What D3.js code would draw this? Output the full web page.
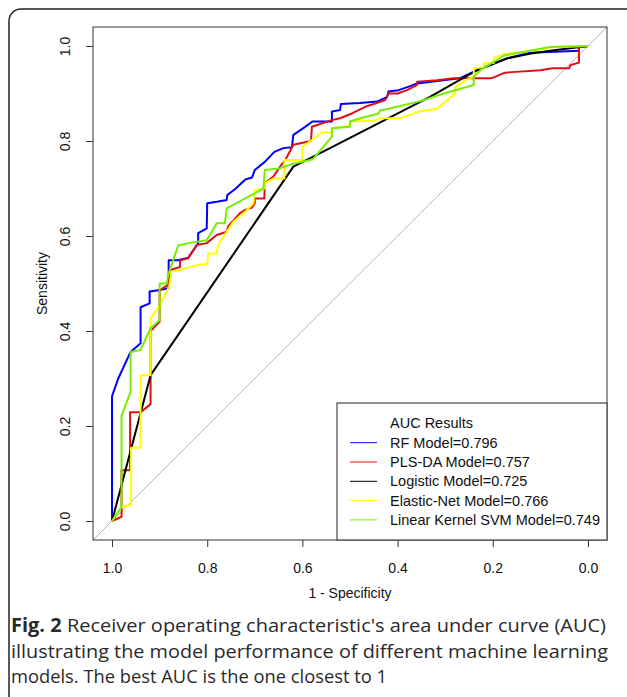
<!DOCTYPE html>
<html>
<head>
<meta charset="utf-8">
<script src="https://cdn.jsdelivr.net/npm/d3@7"></script>
<style>
  body { margin: 0; background: #fff; }
  svg { display: block; }
</style>
</head>
<body>
<script>
// ROC curves, points are [specificity, sensitivity]
var rfPoints = [[1,0],[1,0.263],[0.987,0.30],[0.961,0.356],[0.94,0.374],[0.94,0.45],[0.921,0.458],[0.921,0.483],
  [0.903,0.486],[0.881,0.49],[0.881,0.549],[0.862,0.549],[0.84,0.554],[0.819,0.585],[0.819,0.606],[0.801,0.616],
  [0.80,0.669],[0.78,0.672],[0.759,0.676],[0.758,0.686],[0.74,0.70],[0.72,0.719],[0.706,0.723],[0.70,0.739],
  [0.679,0.756],[0.659,0.777],[0.64,0.785],[0.622,0.787],[0.619,0.813],[0.598,0.827],[0.579,0.841],[0.538,0.841],
  [0.538,0.862],[0.521,0.865],[0.519,0.878],[0.479,0.88],[0.443,0.883],[0.422,0.893],[0.419,0.904],[0.398,0.907],
  [0.378,0.914],[0.359,0.921],[0.27,0.932],[0.233,0.949],[0.17,0.974],[0.121,0.986],[0.019,0.99],[0.019,0.998],[0,1]];
var plsdaPoints = [[1,0],[0.98,0.009],[0.98,0.107],[0.962,0.107],[0.962,0.229],[0.94,0.229],[0.919,0.246],[0.919,0.40],
  [0.90,0.42],[0.90,0.486],[0.882,0.497],[0.879,0.528],[0.857,0.535],[0.857,0.549],[0.84,0.553],[0.822,0.581],
  [0.801,0.585],[0.78,0.602],[0.759,0.609],[0.756,0.62],[0.731,0.648],[0.72,0.655],[0.706,0.66],[0.70,0.669],
  [0.70,0.679],[0.68,0.679],[0.679,0.711],[0.661,0.725],[0.647,0.746],[0.636,0.76],[0.619,0.792],[0.582,0.80],
  [0.58,0.83],[0.538,0.844],[0.521,0.848],[0.496,0.858],[0.468,0.872],[0.447,0.879],[0.426,0.886],[0.419,0.90],
  [0.40,0.90],[0.38,0.907],[0.359,0.918],[0.359,0.925],[0.317,0.928],[0.282,0.932],[0.205,0.932],[0.198,0.934],
  [0.177,0.943],[0.16,0.945],[0.10,0.949],[0.075,0.953],[0.04,0.953],[0.036,0.96],[0.019,0.965],[0.019,0.998],[0,1]];
var logisticPoints = [[1,0],[0.919,0.307],[0.619,0.746],[0.542,0.785],[0.332,0.893],[0.233,0.949],[0.17,0.974],
  [0.12,0.984],[0.079,0.99],[0,1]];
var elasticPoints = [[1,0],[0.98,0.03],[0.96,0.034],[0.96,0.154],[0.94,0.154],[0.94,0.307],[0.919,0.307],[0.919,0.427],
  [0.903,0.448],[0.88,0.493],[0.875,0.525],[0.857,0.528],[0.84,0.534],[0.819,0.539],[0.80,0.541],[0.798,0.563],
  [0.78,0.563],[0.777,0.581],[0.759,0.609],[0.745,0.63],[0.72,0.651],[0.703,0.669],[0.70,0.697],[0.679,0.70],
  [0.679,0.711],[0.661,0.721],[0.638,0.721],[0.638,0.76],[0.60,0.76],[0.60,0.788],[0.58,0.802],[0.559,0.818],
  [0.538,0.818],[0.538,0.827],[0.50,0.832],[0.50,0.841],[0.447,0.843],[0.437,0.848],[0.398,0.848],[0.373,0.855],
  [0.356,0.862],[0.317,0.868],[0.279,0.90],[0.279,0.914],[0.257,0.928],[0.24,0.935],[0.24,0.953],[0.219,0.956],
  [0.219,0.964],[0.198,0.964],[0.198,0.975],[0.177,0.983],[0.14,0.987],[0.10,0.993],[0.079,0.998],[0,1]];
var svmPoints = [[1,0],[0.98,0.03],[0.98,0.222],[0.961,0.272],[0.961,0.356],[0.94,0.36],[0.919,0.406],[0.90,0.423],
  [0.90,0.50],[0.885,0.50],[0.882,0.518],[0.861,0.58],[0.84,0.585],[0.801,0.591],[0.78,0.627],[0.763,0.627],
  [0.759,0.658],[0.682,0.70],[0.679,0.739],[0.65,0.742],[0.619,0.752],[0.584,0.76],[0.577,0.763],[0.538,0.809],
  [0.538,0.827],[0.50,0.83],[0.50,0.841],[0.478,0.848],[0.44,0.858],[0.437,0.864],[0.419,0.868],[0.352,0.884],
  [0.303,0.90],[0.279,0.907],[0.24,0.918],[0.24,0.935],[0.226,0.949],[0.176,0.98],[0.079,0.998],[0,1]];

var modelNames = ["RF Model=0.796", "PLS-DA Model=0.757", "Logistic Model=0.725",
  "Elastic-Net Model=0.766", "Linear Kernel SVM Model=0.749"];
var modelColors = ["#0000ff", "#e01010", "#000000", "#ffff00", "#76ee00"];
var modelPoints = [rfPoints, plsdaPoints, logisticPoints, elasticPoints, svmPoints];
var tickValues = [1.0, 0.8, 0.6, 0.4, 0.2, 0.0];
var captionLines = [
  ["Fig. 2", " Receiver operating characteristic's area under curve (AUC)"],
  ["", "illustrating the model performance of different machine learning"],
  ["", "models. The best AUC is the one closest to 1"]
];

var svg = d3.select("body").append("svg").attr("width", 627).attr("height", 697);

// outer rounded panel
svg.append("rect").attr("x", 9).attr("y", 9).attr("width", 720).attr("height", 800)
  .attr("rx", 12).attr("fill", "none").attr("stroke", "#222").attr("stroke-width", 1.5);

var plotLeft = 93, plotRight = 607, plotTop = 27, plotBottom = 540;
var x = d3.scaleLinear().domain([1.04, -0.04]).range([plotLeft, plotRight]);
var y = d3.scaleLinear().domain([-0.04, 1.04]).range([plotBottom, plotTop]);

var font = "'Liberation Sans', Arial, sans-serif";

// diagonal reference
svg.append("line")
  .attr("x1", x(1.04)).attr("y1", y(-0.04))
  .attr("x2", x(-0.04)).attr("y2", y(1.04))
  .attr("stroke", "#b4b4b4").attr("stroke-width", 1);

var line = d3.line().x(function (d) { return x(d[0]); }).y(function (d) { return y(d[1]); });
for (var i = 0; i < modelPoints.length; i++) {
  svg.append("path")
    .attr("d", line(modelPoints[i]))
    .attr("fill", "none")
    .attr("stroke", modelColors[i])
    .attr("stroke-width", 2)
    .attr("stroke-linejoin", "round");
}

// axes
var xAxis = svg.append("g").attr("transform", "translate(0," + plotBottom + ")")
  .call(d3.axisBottom(x).tickValues(tickValues).tickFormat(d3.format(".1f")).tickSize(7).tickPadding(16));
var yAxis = svg.append("g").attr("transform", "translate(" + plotLeft + ",0)")
  .call(d3.axisLeft(y).tickValues(tickValues).tickFormat(d3.format(".1f")).tickSize(7));
[xAxis, yAxis].forEach(function (g) {
  g.select(".domain").remove();
  g.selectAll(".tick line").attr("stroke", "#333");
  g.selectAll("text").attr("font-family", font).attr("font-size", 14).attr("fill", "#111");
});
yAxis.selectAll(".tick text")
  .attr("x", null).attr("dy", null)
  .attr("text-anchor", "middle")
  .attr("transform", "translate(-23,0) rotate(-90)");

// frame
svg.append("rect").attr("x", plotLeft).attr("y", plotTop)
  .attr("width", plotRight - plotLeft).attr("height", plotBottom - plotTop)
  .attr("fill", "none").attr("stroke", "#333").attr("stroke-width", 1);

// axis titles
svg.append("text").attr("x", (plotLeft + plotRight) / 2).attr("y", 598)
  .attr("text-anchor", "middle").attr("font-family", font).attr("font-size", 14).attr("fill", "#111")
  .text("1 - Specificity");
svg.append("text").attr("transform", "translate(47," + (plotTop + plotBottom) / 2 + ") rotate(-90)")
  .attr("text-anchor", "middle").attr("font-family", font).attr("font-size", 14).attr("fill", "#111")
  .text("Sensitivity");

// legend
var legend = svg.append("g");
legend.append("rect").attr("x", 337).attr("y", 403).attr("width", plotRight - 337).attr("height", plotBottom - 403)
  .attr("fill", "#fff").attr("stroke", "#444").attr("stroke-width", 1.2);
legend.append("text").attr("x", 390).attr("y", 428)
  .attr("font-family", font).attr("font-size", 14.5).attr("fill", "#111").text("AUC Results");
for (var k = 0; k < modelNames.length; k++) {
  var ly = 442.7 + k * 19.3;
  legend.append("line").attr("x1", 350).attr("x2", 377).attr("y1", ly).attr("y2", ly)
    .attr("stroke", modelColors[k]).attr("stroke-width", 1);
  legend.append("text").attr("x", 390).attr("y", ly + 5)
    .attr("font-family", font).attr("font-size", 14.5).attr("fill", "#111").text(modelNames[k]);
}

// caption
var capWidths = [595, 597, 376];
for (var c = 0; c < captionLines.length; c++) {
  var t = svg.append("text").attr("x", 11).attr("y", 632 + c * 25.5)
    .attr("font-family", "'Open Sans', sans-serif").attr("font-size", 19).attr("fill", "#2a2a2a")
    .attr("textLength", capWidths[c]).attr("lengthAdjust", "spacingAndGlyphs");
  if (captionLines[c][0]) t.append("tspan").attr("font-weight", "bold").text(captionLines[c][0]);
  t.append("tspan").text(captionLines[c][1]);
}
</script>
</body>
</html>
